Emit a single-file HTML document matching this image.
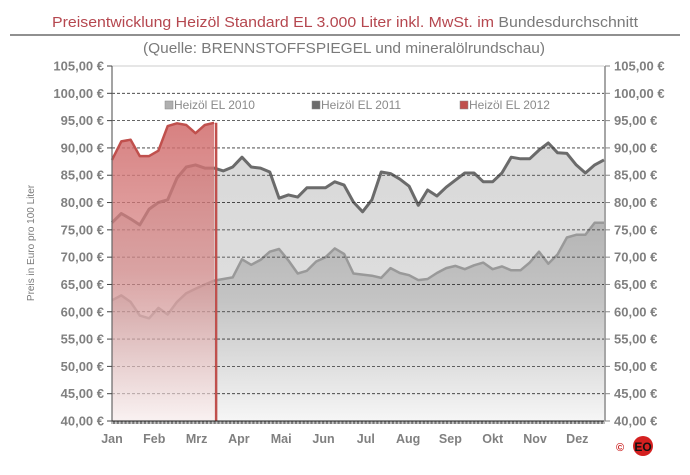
<!DOCTYPE html>
<html><head><meta charset="utf-8"><style>
body{margin:0;background:#fff;}
svg{display:block;font-family:"Liberation Sans",sans-serif;}
</style></head><body>
<svg id="chart" width="690" height="475" viewBox="0 0 690 475">
<defs>
<linearGradient id="g11" x1="0" y1="0" x2="0" y2="1"><stop offset="0" stop-color="#d9d9d9"/><stop offset="0.6" stop-color="#dedede"/><stop offset="1" stop-color="#fbfbfb"/></linearGradient>
<linearGradient id="g10" x1="0" y1="0" x2="0" y2="1"><stop offset="0" stop-color="#b5b5b5"/><stop offset="0.4" stop-color="#c4c4c4"/><stop offset="1" stop-color="#f6f6f6"/></linearGradient>
<linearGradient id="g12" x1="0" y1="0" x2="0" y2="1"><stop offset="0" stop-color="#d06a6a" stop-opacity="0.85"/><stop offset="0.5" stop-color="#d88a8a" stop-opacity="0.7"/><stop offset="1" stop-color="#fbeeee" stop-opacity="0.6"/></linearGradient>
</defs>
<text x="345" y="27" text-anchor="middle" font-size="15" textLength="586" lengthAdjust="spacingAndGlyphs"><tspan fill="#b5474f">Preisentwicklung Heizöl Standard EL 3.000 Liter inkl. MwSt. im </tspan><tspan fill="#7a7a7a">Bundesdurchschnitt</tspan></text>
<line x1="10" y1="35" x2="680" y2="35" stroke="#222" stroke-width="1"/>
<text x="344" y="53" text-anchor="middle" font-size="15" fill="#7a7a7a" textLength="402" lengthAdjust="spacingAndGlyphs">(Quelle: BRENNSTOFFSPIEGEL  und mineralölrundschau)</text>
<text transform="translate(34,243) rotate(-90)" text-anchor="middle" font-size="10" fill="#7a7a7a">Preis in Euro pro 100 Liter</text>
<g id="plot"></g>
<g id="axes"></g>
<g>
<text x="616" y="451" font-size="11" fill="#cc2222" font-weight="bold">©</text>
<circle cx="643" cy="446" r="10" fill="#d42020"/>
<text x="643" y="451" text-anchor="middle" font-size="12" font-weight="bold" fill="#111">EO</text>
</g>
</svg>
<script>
const yTicks=[40,45,50,55,60,65,70,75,80,85,90,95,100,105];
const months=["Jan","Feb","Mrz","Apr","Mai","Jun","Jul","Aug","Sep","Okt","Nov","Dez"];
const series2011=[76.3,78,77,75.9,78.8,80,80.5,84.5,86.5,86.9,86.3,86.3,85.8,86.5,88.3,86.5,86.3,85.6,80.8,81.4,81,82.7,82.7,82.7,83.8,83.2,80.1,78.3,80.5,85.6,85.3,84.3,83,79.5,82.3,81.2,82.8,84.1,85.4,85.4,83.8,83.8,85.4,88.3,88,88,89.6,90.9,89.1,89,86.9,85.4,86.9,87.8];
const series2010=[62.1,63,61.8,59.3,58.8,60.7,59.5,61.8,63.4,64.2,65,65.7,66,66.3,69.6,68.6,69.5,71,71.5,69.4,67,67.5,69.2,70,71.6,70.6,67,66.8,66.6,66.2,68,67.1,66.7,65.8,66,67.1,68,68.4,67.8,68.5,69,67.8,68.3,67.6,67.6,69,71,68.8,70.5,73.6,74.1,74.1,76.3,76.3];
const series2012=[87.8,91.2,91.5,88.5,88.5,89.5,94,94.5,94.2,92.7,94.2,94.6];
const X0=112,X1=604,Y0=421,Y1=66,NW=54;
const xw=i=>X0+i*(X1-X0)/(NW-1);
const yv=v=>Y0-(v-40)*(Y0-Y1)/65;
const NS="http://www.w3.org/2000/svg";
function mk(tag,attrs,parent){const e=document.createElementNS(NS,tag);for(const k in attrs)e.setAttribute(k,attrs[k]);parent.appendChild(e);return e;}
const plot=document.getElementById('plot'),axes=document.getElementById('axes');
function linePts(arr){return arr.map((v,i)=>xw(i).toFixed(1)+","+yv(v).toFixed(1)).join(" ");}
function area(arr,fill,stroke,sw,name){
  const last=xw(arr.length-1);
  const a=mk('polygon',{points:X0+","+Y0+" "+linePts(arr)+" "+last+","+Y0,fill:fill},plot);
  
  
  const l=mk('polyline',{points:linePts(arr),fill:"none",stroke:stroke,"stroke-width":sw,"stroke-linejoin":"round"},plot);
  
  
  return last;
}
area(series2011,"url(#g11)","#6b6b6b",3,"series-2011");
area(series2010,"url(#g10)","#999",2.5,"series-2010");
// gridlines
yTicks.forEach(t=>{
  if(t===40||t===105)return;
  const g=mk('line',{x1:X0,x2:X1,y1:yv(t),y2:yv(t),stroke:"#333","stroke-width":0.8,"stroke-dasharray":"3,2"},plot);
  
  
});
const e12=area(series2012,"url(#g12)","#c0504d",2.5,"series-2012");
const dl=mk('line',{x1:e12+2,x2:e12+2,y1:yv(series2012[series2012.length-1]),y2:Y0,stroke:"#c0504d","stroke-width":2.5},plot);


// borders
const tb=mk('line',{x1:X0,x2:X1,y1:Y1,y2:Y1,stroke:"#ccc","stroke-width":1},axes);


const la=mk('line',{x1:X0,x2:X0,y1:Y1,y2:Y0,stroke:"#666","stroke-width":1.2},axes);


const ra=mk('line',{x1:X1+1,x2:X1+1,y1:Y1,y2:Y0,stroke:"#888","stroke-width":1.5},axes);


const xa=mk('line',{x1:X0,x2:X1,y1:Y0,y2:Y0,stroke:"#222","stroke-width":1},axes);


let d="";for(let k=0;k<=365;k++){const x=X0+k*(X1-X0)/365;d+="M"+x.toFixed(2)+","+Y0+"v3";}
const tk=mk('path',{d:d,stroke:"#222","stroke-width":0.6},axes);


yTicks.forEach(t=>{
  const y=yv(t);
  mk('line',{x1:X0-5,x2:X0,y1:y,y2:y,stroke:"#444"},axes);
  mk('line',{x1:X1+1,x2:X1+6,y1:y,y2:y,stroke:"#888"},axes);
  const lab=t.toFixed(2).replace('.',',')+" €";
  const a=mk('text',{x:X0-8,y:y+4.5,"text-anchor":"end","font-size":13,"font-weight":"bold",fill:"#808080"},axes);
  a.textContent=lab;
  
  
  const b=mk('text',{x:X1+10,y:y+4.5,"font-size":13,"font-weight":"bold",fill:"#808080"},axes);
  b.textContent=lab;
  
  
});
months.forEach((m,i)=>{
  const t=mk('text',{x:X0+i*42.3,y:443,"text-anchor":"middle","font-size":12.5,"font-weight":"bold",fill:"#808080"},axes);
  t.textContent=m;
  
  
});
const legend=[["Heizöl EL 2010","#b0b0b0",165],["Heizöl EL 2011","#6b6b6b",312],["Heizöl EL 2012","#c0504d",460]];
legend.forEach(l=>{
  const g=mk('g',{},axes);
  
  
  mk('rect',{x:l[2],y:101,width:8,height:8,fill:l[1],stroke:"#888","stroke-width":0.5},g);
  const t=mk('text',{x:l[2]+9,y:109,"font-size":12,fill:"#8a8a8a"},g);
  t.textContent=l[0];
});
</script>
</body></html>
